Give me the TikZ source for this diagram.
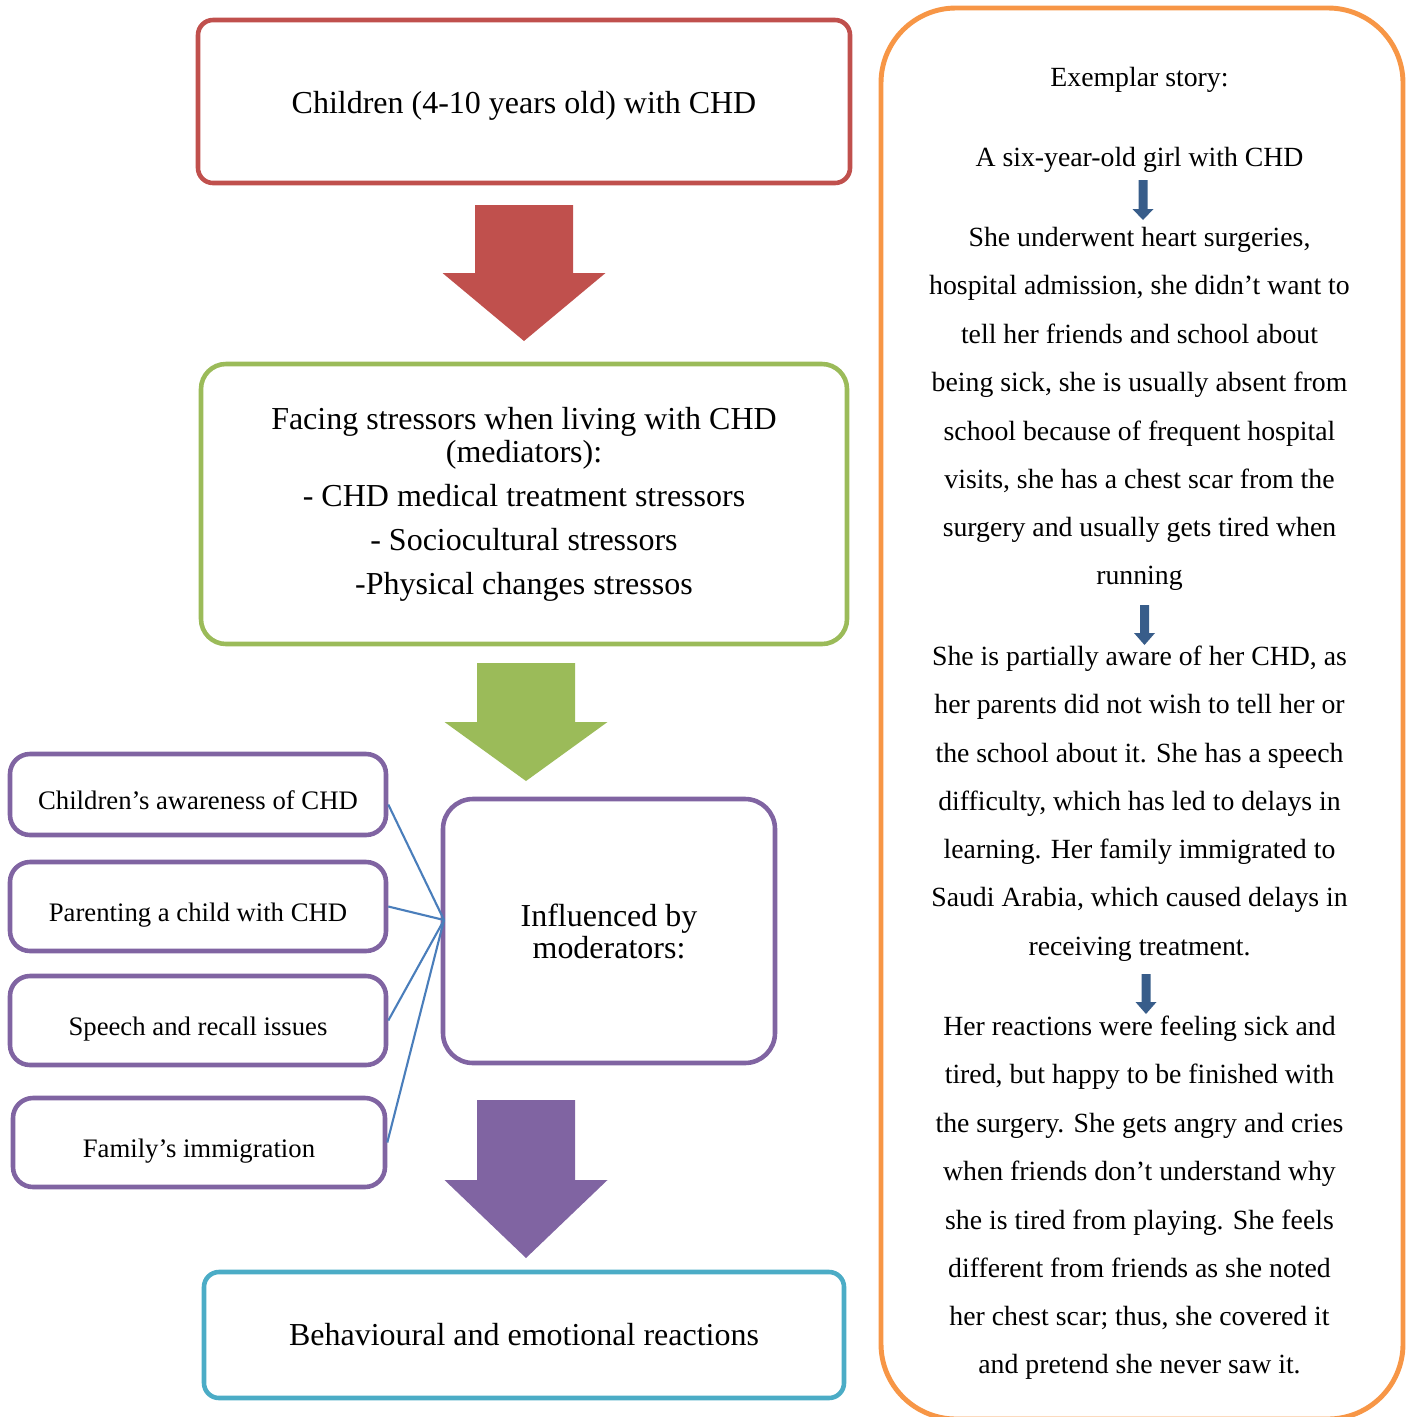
\documentclass[tikz,border=0pt]{standalone}
\usepackage{fontspec}
\setmainfont{Liberation Serif}
\usetikzlibrary{positioning,calc}
\definecolor{chdred}{HTML}{C0504D}
\definecolor{chdgreen}{HTML}{9BBB59}
\definecolor{chdpurple}{HTML}{8064A2}
\definecolor{chdteal}{HTML}{4BACC6}
\definecolor{chdorange}{HTML}{F79646}
\definecolor{chdnavy}{HTML}{385D8A}
\definecolor{chdlink}{HTML}{4A7EBB}
\tikzstyle{stagebox} = [draw, line width=1.3pt, rounded corners=0.15cm, align=center, inner sep=0pt, font=\fontsize{9.1}{12.5}\selectfont]
\tikzstyle{factorbox} = [draw=chdpurple, line width=1.3pt, rounded corners=0.2cm, minimum width=3.76cm, minimum height=0.89cm, inner sep=0pt, text height=0.84em, text depth=0pt, font=\fontsize{7.6}{9}\selectfont]
\tikzstyle{storyline} = [anchor=base, inner sep=0pt, font=\fontsize{7.9}{9}\selectfont]
\tikzstyle{link} = [chdlink, line width=0.6pt]
% colour, x, top, neck, tip, shaft half-width, head half-width
\newcommand{\blockarrow}[7]{%
  \fill[#1] (#2-#6,#3) -- (#2+#6,#3) -- (#2+#6,#4) -- (#2+#7,#4) -- (#2,#5) -- (#2-#7,#4) -- (#2-#6,#4) -- cycle;}

\begin{document}
\begin{tikzpicture}
\useasboundingbox (0,0) rectangle (14.13,-14.17);

% main column
\node[stagebox, draw=chdred, minimum width=6.52cm, minimum height=1.63cm, text height=0.66em, text depth=0pt] (kids) at (5.24,-1.015) {Children (4-10 years old) with CHD};
\blockarrow{chdred}{5.24}{-2.05}{-2.73}{-3.41}{0.49}{0.815}

\node[stagebox, draw=chdgreen, rounded corners=0.25cm, minimum width=6.46cm, minimum height=2.80cm] (stress) at (5.24,-5.04) {Facing stressors when living with CHD\\[-3.1pt](mediators):\\- CHD medical treatment stressors\\- Sociocultural stressors\\-Physical changes stressos};
\blockarrow{chdgreen}{5.26}{-6.63}{-7.22}{-7.81}{0.49}{0.815}

\node[stagebox, draw=chdpurple, rounded corners=0.3cm, minimum width=3.32cm, minimum height=2.64cm, font=\fontsize{9.1}{9.1}\selectfont] (mod) at (6.09,-9.31) {Influenced by\\moderators:};
\blockarrow{chdpurple}{5.26}{-11.00}{-11.80}{-12.58}{0.49}{0.815}

\node[stagebox, draw=chdteal, minimum width=6.40cm, minimum height=1.26cm] (react) at (5.24,-13.35) {Behavioural and emotional reactions};

% moderators
\node[factorbox, minimum height=0.81cm] (aware) at (1.98,-7.945) {Children’s awareness of CHD};
\node[factorbox] (parent) at (1.98,-9.065) {Parenting a child with CHD};
\node[factorbox] (speech) at (1.98,-10.205) {Speech and recall issues};
\node[factorbox, minimum width=3.72cm] (immig) at (1.99,-11.425) {Family’s immigration};
\coordinate (hub) at (4.44,-9.20);
\foreach \f/\dy in {aware/-0.1,parent/0,speech/0,immig/0}
  \draw[link] ([yshift=\dy cm]\f.east) -- (hub);

% story panel
\node[draw=chdorange, line width=1.4pt, rounded corners=0.75cm, minimum width=5.22cm, minimum height=14.11cm] (story) at (11.42,-7.135) {};
\foreach \y/\txt in {86/{Exemplar story:},166/{A six-year-old girl with CHD},
  246/{She underwent heart surgeries,},294/{hospital admission, she didn’t want to},343/{tell her friends and school about},391/{being sick, she is usually absent from},440/{school because of frequent hospital},488/{visits, she has a chest scar from the},536/{surgery and usually gets tired when},584/{running},
  665/{She is partially aware of her CHD, as},713/{her parents did not wish to tell her or},762/{the school about it. She has a speech},810/{difficulty, which has led to delays in},858/{learning. Her family immigrated to},906/{Saudi Arabia, which caused delays in},955/{receiving treatment.},
  1035/{Her reactions were feeling sick and},1083/{tired, but happy to be finished with},1132/{the surgery. She gets angry and cries},1180/{when friends don’t understand why},1229/{she is tired from playing. She feels},1277/{different from friends as she noted},1325/{her chest scar; thus, she covered it},1373/{and pretend she never saw it.}}{
  \node[storyline] (line\y) at (11.395,-\y/100) {\txt};
}
\blockarrow{chdnavy}{11.43}{-1.80}{-2.09}{-2.20}{0.045}{0.105}
\blockarrow{chdnavy}{11.445}{-6.05}{-6.33}{-6.45}{0.045}{0.105}
\blockarrow{chdnavy}{11.46}{-9.74}{-10.02}{-10.14}{0.045}{0.105}
\end{tikzpicture}
\end{document}
